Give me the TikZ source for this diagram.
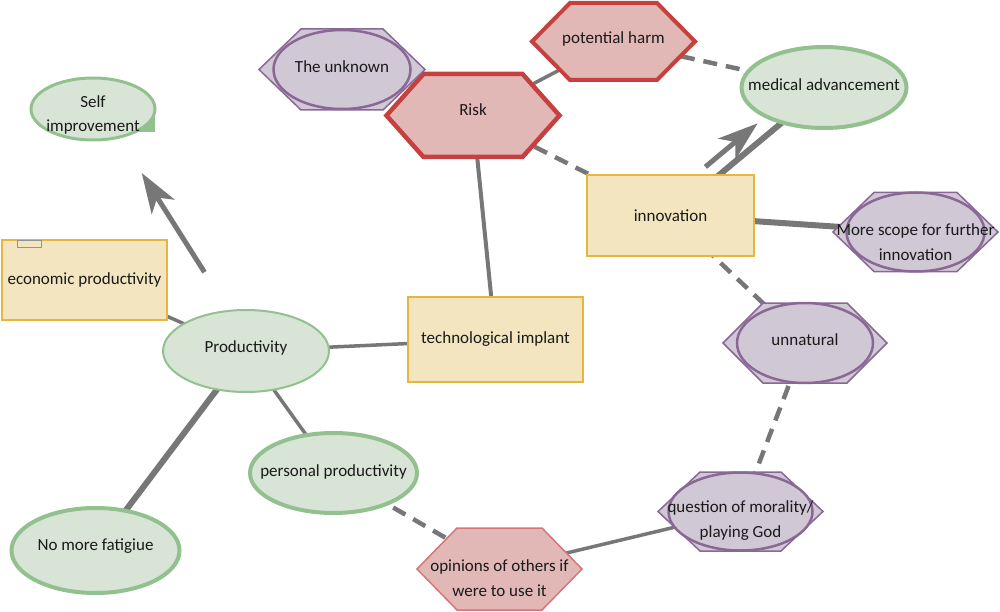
\documentclass[tikz,border=0pt]{standalone}
\usepackage{fontspec}
\setmainfont{Carlito}
\usetikzlibrary{calc,arrows.meta,shapes.geometric}
\pgfdeclarelayer{bg}
\pgfdeclarelayer{mid}
\pgfsetlayers{bg,mid,main}
\definecolor{gfill}{HTML}{D8E4D6}
\definecolor{gborder}{HTML}{93C08F}
\definecolor{yfill}{HTML}{F2E5BF}
\definecolor{yborder}{HTML}{E4B83E}
\definecolor{rfill}{HTML}{E1B8B6}
\definecolor{rborder}{HTML}{C6403F}
\definecolor{rlight}{HTML}{D8757A}
\definecolor{pfill}{HTML}{D1C8D6}
\definecolor{pborder}{HTML}{8A6896}
\definecolor{lgray}{HTML}{777777}
\definecolor{tcol}{HTML}{1A1A1A}
\newcommand\hexpath[2]{(#1.west) -- ([xshift=#2]#1.north west) -- ([xshift=-#2]#1.north east) -- (#1.east) -- ([xshift=-#2]#1.south east) -- ([xshift=#2]#1.south west) -- cycle}
\begin{document}
\begin{tikzpicture}[x=1pt,y=-1pt,
  txt/.style={inner sep=0, align=center, text=tcol, font=\fontsize{17}{24.5}\selectfont},
  gell/.style={ellipse, inner sep=0, outer sep=0, draw=gborder, fill=gfill, line width=3.5},
  ybox/.style={rectangle, inner sep=0, draw=yborder, fill=yfill, line width=2.5, text=tcol, align=center, font=\fontsize{17}{24.5}\selectfont},
  hexbox/.style={rectangle, inner sep=0, outer sep=0, draw=none},
  redhex/.style={draw=rborder, fill=rfill, line width=4.5, line join=miter},
  purhex/.style={draw=pborder, fill=pfill, line width=1.5},
  purell/.style={draw=pborder, fill=pfill, line width=2.5},
  conn/.style={draw=lgray, line width=3.5},
  thconn/.style={draw=lgray, line width=6},
  dconn/.style={draw=lgray, line width=4.5, dash pattern=on 14pt off 9pt},
  arr/.style={draw=lgray, line width=5, -{Stealth[length=40pt,width=27pt,inset=11pt]}}
]
\useasboundingbox (0,0) rectangle (1000,612);

% ---------- shape nodes ----------
\begin{pgfonlayer}{mid}
\fill[gborder] (139,111) rectangle (155,132);
\node[gell, line width=3, minimum width=124, minimum height=62] (self) at (93,109) {};
\node[gell, line width=2, minimum width=166, minimum height=82] (prod) at (246,351) {};
\node[gell, line width=4, minimum width=165, minimum height=81] (med) at (824,87.5) {};
\node[gell, line width=4, minimum width=167, minimum height=80] (pers) at (333.5,473) {};
\node[gell, line width=4, minimum width=168, minimum height=85] (fat) at (95.5,550.5) {};
\end{pgfonlayer}

\node[ybox, minimum width=165, minimum height=80] (econ) at (84.5,280) {economic productivity};
\draw[draw=lgray!80, line width=0.8] ([shift={(17pt,-2pt)}]econ.north west) rectangle ++(24,7);
\node[ybox, minimum width=175, minimum height=85] (tech) at (495.5,339.5) {technological implant};
\node[ybox, minimum width=167, minimum height=81] (innov) at (670.5,215.5) {innovation};

\node[hexbox, minimum width=173, minimum height=83] (risk) at (473,115.5) {};
\node[hexbox, minimum width=166, minimum height=81] (unk) at (342,69.5) {};
\node[hexbox, minimum width=163, minimum height=77] (ph) at (613.5,41.5) {};
\node[hexbox, minimum width=165, minimum height=79] (more) at (915.5,232) {};
\node[hexbox, minimum width=164, minimum height=80] (unnat) at (805,343) {};
\node[hexbox, minimum width=165, minimum height=79] (quest) at (740.5,511.5) {};
\node[hexbox, minimum width=165, minimum height=82] (opin) at (499.5,569) {};

\begin{pgfonlayer}{mid}
\draw[redhex] \hexpath{risk}{37};
\draw[redhex, line width=4] \hexpath{ph}{38};
\draw[draw=rlight, fill=rfill, line width=1.5] \hexpath{opin}{40};
\draw[purhex] \hexpath{unk}{42};
\draw[purell] (unk.center) ellipse [x radius=68.5, y radius=39.5];
\draw[purhex] \hexpath{more}{41};
\draw[purell] (more.center) ellipse [x radius=69, y radius=39.5];
\draw[purhex] \hexpath{unnat}{40};
\draw[purell] (unnat.center) ellipse [x radius=68, y radius=40];
\draw[purhex] \hexpath{quest}{42};
\draw[purell] (quest.center) ellipse [x radius=72, y radius=39];
\end{pgfonlayer}

% ---------- texts ----------
\node[txt] (self-t) at ([yshift=-6pt]self.center) {Self\\improvement};
\node[txt] (prod-t) at ([yshift=3pt]prod.center) {Productivity};
\node[txt] (med-t) at ([yshift=3pt]med.center) {medical advancement};
\node[txt] (pers-t) at ([yshift=1pt]pers.center) {personal productivity};
\node[txt] (fat-t) at ([yshift=4pt]fat.center) {No more fatigiue};
\node[txt] (risk-t) at ([yshift=6pt]risk.center) {Risk};
\node[txt] (unk-t) at ([yshift=3pt]unk.center) {The unknown};
\node[txt] (ph-t) at ([yshift=3pt]ph.center) {potential harm};
\node[txt] (more-t) at ([yshift=-10pt]more.center) {More scope for further\\innovation};
\node[txt] (unnat-t) at ([yshift=3pt]unnat.center) {unnatural};
\node[txt] (quest-t) at ([yshift=-9pt]quest.center) {question of morality/\\playing God};
\node[txt] (opin-t) at ([yshift=-9pt]opin.center) {opinions of others if\\were to use it};

% ---------- connectors ----------
\begin{pgfonlayer}{bg}
\draw[conn] (econ.center) -- (prod.center);
\draw[conn] (prod.center) -- (tech.center);
\draw[conn, line width=4] (tech.center) -- (risk.center);
\draw[conn] (risk.center) -- (ph.center);
\draw[dconn] (ph.center) -- (med.center);
\draw[dconn] (risk.center) -- (innov.center);
\draw[thconn] (innov.center) -- (med.center);
\draw[thconn] (innov.center) -- (more.center);
\draw[dconn] (innov.center) -- (unnat.center);
\draw[dconn] (unnat.center) -- (quest.center);
\draw[conn] (quest.center) -- (opin.center);
\draw[dconn] (pers.center) -- (opin.center);
\draw[conn] (prod.center) -- (pers.center);
\draw[thconn] (prod.center) -- (fat.center);
\end{pgfonlayer}
\draw[arr] ($(prod.center)!0.31!(self.center)!7pt!-90:(self.center)$) -- ($(prod.center)!0.72!(self.center)!7pt!-90:(self.center)$);
\draw[arr] ($(innov.center)!0.29!(med.center)!15pt!90:(med.center)$) -- ($(innov.center)!0.63!(med.center)!15pt!90:(med.center)$);
\end{tikzpicture}
\end{document}
